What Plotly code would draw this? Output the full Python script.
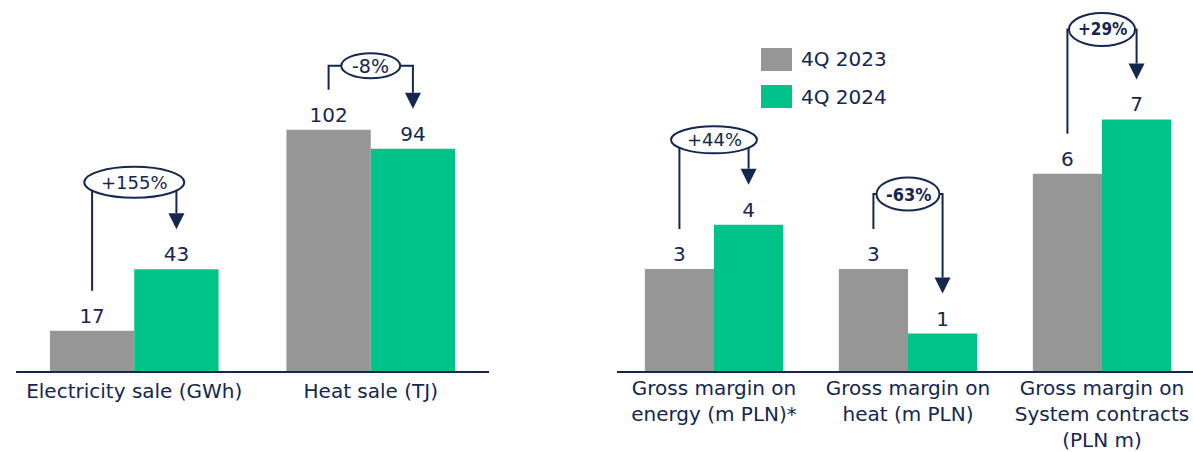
import plotly.graph_objects as go

# ---------------- data ----------------
series_names = ["4Q 2023", "4Q 2024"]

categories_left = ["Electricity sale (GWh)", "Heat sale (TJ)"]
q4_2023_left = [17, 102]
q4_2024_left = [43, 94]
change_left = ["+155%", "-8%"]

categories_right = [
    "Gross margin on<br>energy (m PLN)*",
    "Gross margin on<br>heat (m PLN)",
    "Gross margin on<br>System contracts<br>(PLN m)",
]
q4_2023_right = [3.0, 3.0, 5.8]
q4_2024_right = [4.3, 1.1, 7.4]
change_right = ["+44%", "-63%", "+29%"]

# ---------------- style ----------------
GRAY = "#969696"
GREEN = "#00C389"
NAVY = "#15264F"
FONT = "DejaVu Sans, Verdana, sans-serif"
NARROW = "DejaVu Sans Condensed, Liberation Sans Narrow, sans-serif"

W, H = 1193, 452
BASE_PX = 371               # pixel row of the category axis
L_X0, L_X1 = 16, 489        # left panel horizontal extent (px)
R_X0 = 617                  # right panel left edge (px)
PPX_R = 194                 # px per category on right panel
PPU_L = 2.365               # px per unit, left panel
PPU_R = 34.0                # px per unit, right panel
BARGAP = 0.287
OFF = (1 - BARGAP) / 4      # offset of each bar centre from category centre

PPX_L = (L_X1 - L_X0) / len(categories_left)

# bracket styles: level above taller bar (px), ellipse size (px), font
bracket_left = [
    dict(level=87, ew=100, eh=31, font=dict(family=FONT, size=18, color=NAVY)),
    dict(level=64, ew=59, eh=25, font=dict(family=FONT, size=19, color=NAVY)),
]
bracket_right = [
    dict(level=85, ew=86, eh=27, font=dict(family=FONT, size=18, color=NAVY)),
    dict(level=75, ew=63, eh=33, font=dict(family=NARROW, size=18, color=NAVY, weight="bold")),
    dict(level=90, ew=66, eh=33, font=dict(family=NARROW, size=17, color=NAVY, weight="bold")),
]

fig = go.Figure()

colors = [GRAY, GREEN]
for name, vals, col in zip(series_names, [q4_2023_left, q4_2024_left], colors):
    fig.add_trace(go.Bar(
        x=list(range(len(categories_left))), y=vals, name=name,
        marker=dict(color=col, line=dict(width=0)),
        texttemplate="%{y:.0f}", textposition="outside", cliponaxis=False,
        constraintext="none",
        textfont=dict(family=FONT, size=20, color=NAVY),
        xaxis="x", yaxis="y", showlegend=False, hoverinfo="skip",
    ))
for name, vals, col in zip(series_names, [q4_2023_right, q4_2024_right], colors):
    fig.add_trace(go.Bar(
        x=list(range(len(categories_right))), y=vals, name=name,
        marker=dict(color=col, line=dict(width=0)),
        texttemplate="%{y:.0f}", textposition="outside", cliponaxis=False,
        constraintext="none",
        textfont=dict(family=FONT, size=20, color=NAVY),
        xaxis="x2", yaxis="y2", showlegend=False, hoverinfo="skip",
    ))

shapes = []
annotations = []


def add_change(xref, yref, i, g, n, label, ppx, ppu, st):
    xg, xn = i - OFF, i + OFF
    y_bottom = g + 40 / ppu
    y_tip = n + 40 / ppu
    y_abase = y_tip + 16 / ppu
    y_lev = max(g, n) + st["level"] / ppu
    hw = 8 / ppx
    shapes.append(dict(
        type="path", xref=xref, yref=yref,
        path=f"M {xg},{y_bottom} L {xg},{y_lev} L {xn},{y_lev} L {xn},{y_abase}",
        line=dict(color=NAVY, width=2), fillcolor="rgba(0,0,0,0)", layer="above",
    ))
    shapes.append(dict(
        type="path", xref=xref, yref=yref,
        path=f"M {xn - hw},{y_abase} L {xn + hw},{y_abase} L {xn},{y_tip} Z",
        line=dict(color=NAVY, width=0), fillcolor=NAVY, layer="above",
    ))
    shapes.append(dict(
        type="circle", xref=xref, yref=yref,
        x0=i - st["ew"] / 2 / ppx, x1=i + st["ew"] / 2 / ppx,
        y0=y_lev - st["eh"] / 2 / ppu, y1=y_lev + st["eh"] / 2 / ppu,
        line=dict(color=NAVY, width=2), fillcolor="white", layer="above",
    ))
    annotations.append(dict(
        x=i, y=y_lev, xref=xref, yref=yref, text=label, showarrow=False,
        xanchor="center", yanchor="middle", font=st["font"],
    ))


for i, (g, n, lab) in enumerate(zip(q4_2023_left, q4_2024_left, change_left)):
    add_change("x", "y", i, g, n, lab, PPX_L, PPU_L, bracket_left[i])
for i, (g, n, lab) in enumerate(zip(q4_2023_right, q4_2024_right, change_right)):
    add_change("x2", "y2", i, g, n, lab, PPX_R, PPU_R, bracket_right[i])

# custom legend
for k, (name, col) in enumerate(zip(series_names, colors)):
    top = 48 + k * 37
    shapes.append(dict(
        type="rect", xref="paper", yref="paper",
        x0=761 / W, x1=792 / W, y0=1 - (top + 23) / H, y1=1 - top / H,
        line=dict(width=0), fillcolor=col,
    ))
    annotations.append(dict(
        x=799 / W, y=1 - (top + 11.5) / H, xref="paper", yref="paper",
        text=name, showarrow=False, xanchor="left", yanchor="middle",
        font=dict(family=FONT, size=20, color=NAVY),
    ))

ydom = [(H - BASE_PX) / H, 1]
axis_common = dict(
    showline=True, linecolor=NAVY, linewidth=2, showgrid=False, zeroline=False,
    ticks="", tickfont=dict(family=FONT, size=20, color=NAVY), fixedrange=True,
    automargin=False,
)
fig.update_layout(
    width=W, height=H, autosize=False,
    margin=dict(l=0, r=0, t=0, b=0, autoexpand=False),
    paper_bgcolor="white", plot_bgcolor="white",
    barmode="group", bargap=BARGAP, bargroupgap=0,
    showlegend=False,
    xaxis=dict(domain=[L_X0 / W, L_X1 / W], range=[-0.5, 1.5], anchor="y",
               tickvals=list(range(len(categories_left))), ticktext=categories_left,
               ticklabelstandoff=1, **axis_common),
    yaxis=dict(domain=ydom, range=[0, BASE_PX / PPU_L], anchor="x", visible=False,
               fixedrange=True, automargin=False),
    xaxis2=dict(domain=[R_X0 / W, 1], range=[-0.5, -0.5 + (W - R_X0) / PPX_R], anchor="y2",
                tickvals=list(range(len(categories_right))), ticktext=categories_right,
                ticklabelstandoff=-2, **axis_common),
    yaxis2=dict(domain=ydom, range=[0, BASE_PX / PPU_R], anchor="x2", visible=False,
                fixedrange=True, automargin=False),
    shapes=shapes,
    annotations=annotations,
)

fig.write_html(
    "out.html",
    config={"displayModeBar": False, "staticPlot": True},
    post_script="document.body.style.margin='0';document.body.style.overflow='hidden';",
)
